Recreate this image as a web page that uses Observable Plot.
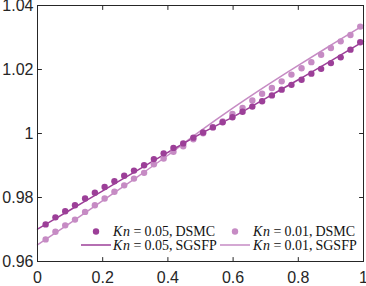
<!DOCTYPE html>
<html>
<head>
<meta charset="utf-8">
<script src="https://cdn.jsdelivr.net/npm/d3@7"></script>
<script src="https://cdn.jsdelivr.net/npm/@observablehq/plot@0.6"></script>
<style>
  html, body { margin: 0; padding: 0; background: #fff; }
  #chart { position: relative; width: 366px; height: 286px; }
</style>
</head>
<body>
<div id="chart"></div>
<script>
// ---- data ----
const xDsmc = [0.025, 0.055, 0.085, 0.115, 0.146, 0.176, 0.206, 0.236, 0.266, 0.296, 0.327,
  0.357, 0.387, 0.417, 0.447, 0.478, 0.508, 0.538, 0.568, 0.598, 0.629, 0.659, 0.689,
  0.719, 0.749, 0.779, 0.810, 0.840, 0.870, 0.900, 0.930, 0.960, 0.990];
const dsmcKn005 = [0.9716, 0.9738, 0.9757, 0.9776, 0.9797, 0.9815, 0.9833, 0.9851, 0.9868,
  0.9884, 0.9901, 0.9920, 0.9938, 0.9955, 0.9969, 0.9987, 1.0003, 1.0019, 1.0035, 1.0051,
  1.0068, 1.0084, 1.0101, 1.0119, 1.0137, 1.0152, 1.0168, 1.0187, 1.0202, 1.0220, 1.0238,
  1.0262, 1.0285];
const dsmcKn001 = [0.9669, 0.9693, 0.9713, 0.9731, 0.9755, 0.9776, 0.9797, 0.9818, 0.9838,
  0.9859, 0.9877, 0.9904, 0.9922, 0.9943, 0.9960, 0.9982, 1.0001, 1.0020, 1.0038, 1.0061,
  1.0080, 1.0103, 1.0124, 1.0142, 1.0163, 1.0184, 1.0204, 1.0223, 1.0246, 1.0267, 1.0288,
  1.0308, 1.0334];
const xSgsfp = [0, 0.1, 0.2, 0.3, 0.4, 0.5, 0.6, 0.7, 0.8, 0.9, 1.0];
const sgsfpKn005 = [0.9701, 0.9761, 0.9821, 0.9881, 0.9941, 0.9999, 1.0052, 1.0110, 1.0168, 1.0227, 1.0288];
const sgsfpKn001 = [0.9652, 0.9720, 0.9790, 0.9860, 0.9932, 1.0008, 1.0080, 1.0148, 1.0213, 1.0276, 1.0338];
const xTicks = [0, 0.2, 0.4, 0.6, 0.8, 1];
const yTicks = [0.96, 0.98, 1, 1.02, 1.04];
const legendLabels = ["DSMC", "SGSFP"];
const knLabels = ["0.05", "0.01"];

const darkColor = "#9c3f98";
const lightColor = "#c68bc4";
const axisColor = "#262626";

const dots005 = xDsmc.map((x, i) => ({x, y: dsmcKn005[i]}));
const dots001 = xDsmc.map((x, i) => ({x, y: dsmcKn001[i]}));
const line005 = xSgsfp.map((x, i) => ({x, y: sgsfpKn005[i]}));
const line001 = xSgsfp.map((x, i) => ({x, y: sgsfpKn001[i]}));

const tickShape = {draw(ctx, l) { ctx.moveTo(0, 0); ctx.lineTo(0, -l); }};
const tickLen = 4;
function inTicks(data, ch, anchor, rotate) {
  const o = {frameAnchor: anchor, length: tickLen, rotate, anchor: "start", shape: tickShape,
    stroke: axisColor, strokeWidth: 1};
  o[ch] = d => d;
  return Plot.vector(data, o);
}

const plot = Plot.plot({
  width: 366,
  height: 286,
  marginLeft: 37,
  marginRight: 3,
  marginTop: 5,
  marginBottom: 25,
  style: {fontFamily: "'Liberation Sans', Arial, sans-serif", fontSize: "16px", color: axisColor, background: "#fff"},
  x: {domain: [0, 1]},
  y: {domain: [0.96, 1.04]},
  marks: [
    Plot.line(line001, {x: "x", y: "y", stroke: lightColor, strokeWidth: 1.5, curve: "monotone-x"}),
    Plot.line(line005, {x: "x", y: "y", stroke: darkColor, strokeWidth: 1.5, curve: "monotone-x"}),
    Plot.dot(dots001, {x: "x", y: "y", r: 3.2, fill: lightColor, stroke: "none"}),
    Plot.dot(dots005, {x: "x", y: "y", r: 3.2, fill: darkColor, stroke: "none"}),
    Plot.axisX(xTicks, {anchor: "bottom", tickSize: 0, tickPadding: 10, label: null, tickFormat: d => String(d), fill: axisColor}),
    Plot.axisY(yTicks, {anchor: "left", tickSize: 0, tickPadding: 4, label: null, tickFormat: d => String(d), fill: axisColor}),
    inTicks(xTicks, "x", "bottom", 0),
    inTicks(xTicks, "x", "top", 180),
    inTicks(yTicks, "y", "left", 90),
    inTicks(yTicks, "y", "right", -90),
    Plot.frame({stroke: axisColor, strokeWidth: 1})
  ]
});
document.getElementById("chart").appendChild(plot);

// ---- legend (inside the axes, bottom right) ----
const svg = d3.select(plot);
const lg = svg.append("g").attr("font-family", "'Liberation Serif', 'Times New Roman', serif")
  .attr("font-size", "14px").attr("fill", "#111").attr("text-anchor", "start");
const cols = [{sym: 96, text: 113, color: darkColor, kn: knLabels[0]},
              {sym: 235, text: 253, color: lightColor, kn: knLabels[1]}];
const rows = [231.5, 245];
cols.forEach(c => {
  lg.append("circle").attr("cx", c.sym).attr("cy", rows[0]).attr("r", 3.2).attr("fill", c.color);
  lg.append("line").attr("x1", c.sym - 15).attr("x2", c.sym + 15).attr("y1", rows[1]).attr("y2", rows[1])
    .attr("stroke", c.color).attr("stroke-width", 1.5);
  legendLabels.forEach((lab, r) => {
    const t = lg.append("text").attr("x", c.text).attr("y", rows[r]).attr("dy", "0.33em")
      .attr("text-anchor", "start");
    t.append("tspan").attr("font-style", "italic").attr("letter-spacing", "0.6px").text("Kn");
    t.append("tspan").attr("dx", 3).text("=");
    t.append("tspan").attr("dx", 3).text(`${c.kn},`);
    t.append("tspan").attr("dx", 3).text(lab);
  });
});
</script>
</body>
</html>
